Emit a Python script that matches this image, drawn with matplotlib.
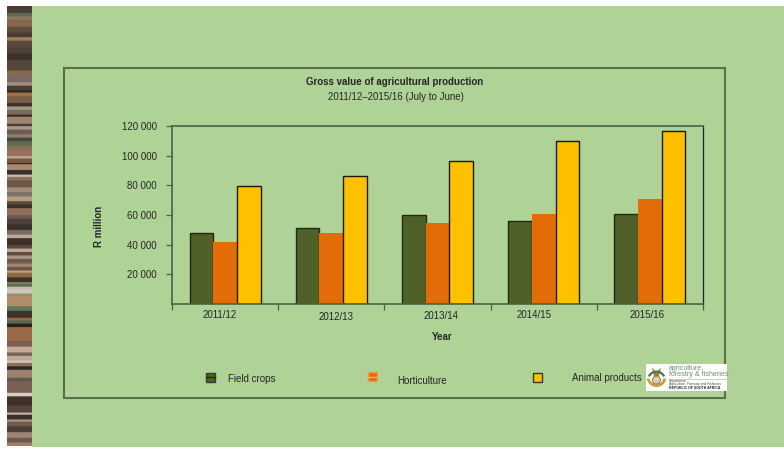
import numpy as np
import matplotlib
matplotlib.use('Agg')
import matplotlib.pyplot as plt
from matplotlib.patches import Rectangle, Ellipse, Wedge, Polygon
from matplotlib.colors import to_rgb

plt.rcParams['font.family'] = ['Liberation Sans', 'DejaVu Sans']

years = ['2011/12', '2012/13', '2013/14', '2014/15', '2015/16']
field_crops = [48000, 51500, 60000, 56000, 60500]
horticulture = [42000, 48000, 54500, 61000, 71000]
animal_products = [79500, 86500, 96500, 110000, 116500]
y_ticks = [20000, 40000, 60000, 80000, 100000, 120000]
y_tick_labels = ['20 000', '40 000', '60 000', '80 000', '100 000', '120 000']

# (height in px, colour) of the bands in the side strip, top to bottom
strip_bands = [
    (6, '#4b3b36'), (3, '#5f6a50'), (3, '#8a7763'), (6, '#86664c'), (5, '#5d4b3e'),
    (4, '#4a3c33'), (3, '#a0805f'), (6, '#5a4a3e'), (5, '#4e4238'), (6, '#3d322b'),
    (9, '#55473a'), (4, '#8a6a4f'), (6, '#7b6a62'), (3, '#a08f82'), (4, '#4a3c36'),
    (2, '#2f2723'), (3, '#a0704a'), (6, '#7b5f48'), (3, '#3a2f2a'), (3, '#a89888'),
    (4, '#7a6a5c'), (2, '#3a302a'), (6, '#a08672'), (2, '#4a3d35'), (3, '#a89a8e'),
    (4, '#6a5c52'), (3, '#8c7f72'), (3, '#4f4238'), (4, '#5a7050'), (3, '#8a6f58'),
    (6, '#96705a'), (2, '#c0a898'), (4, '#7a5a44'), (1, '#3a2018'), (5, '#a88a74'),
    (4, '#3a2f2b'), (2, '#c8bcb0'), (3, '#8a735f'), (6, '#6e5744'), (4, '#a08c7c'),
    (4, '#7d7268'), (4, '#b89c80'), (3, '#574a40'), (3, '#3a302a'), (6, '#8e6e56'),
    (3, '#6a5a54'), (5, '#4c403a'), (5, '#3c322c'), (4, '#7d6a60'),
    (3, '#b8a898'), (6, '#3c3028'), (3, '#5a4838'), (3, '#c0a898'), (3, '#5d4c40'),
    (3, '#a89484'), (4, '#6d5a4a'), (3, '#a08674'), (3, '#6a5648'), (2, '#c0a080'),
    (4, '#8a6a4a'), (4, '#3c3028'), (2, '#7c8060'), (2, '#5a6a4c'), (2, '#c8b8a8'),
    (4, '#d0c4bc'), (2, '#8a9068'), (9, '#b08c6c'), (4, '#5e7858'), (6, '#3e332a'),
    (2, '#9a6a44'), (3, '#5a6a4c'), (3, '#28201e'), (12, '#9a6a48'), (5, '#7a6050'),
    (5, '#c4ac98'), (3, '#7a6454'), (4, '#c0a898'), (2, '#d4c8c0'), (3, '#8a7060'),
    (3, '#2c2622'), (7, '#9c8070'), (3, '#5c5a4c'), (10, '#7c6058'), (3, '#d8ccc4'),
    (8, '#3e302a'), (6, '#55453a'), (2, '#c0b0a4'), (4, '#3a302c'), (2, '#a89484'),
    (4, '#705c50'), (5, '#4a3e36'), (5, '#a08478'), (4, '#6a5a4c'), (3, '#a87c64'),
]

FIELD_COLOR = '#4f6128'
HORT_COLOR = '#e36c09'
ANIMAL_COLOR = '#ffc000'
GREEN_BG = '#afd297'
FRAME_COLOR = '#5c6e4c'
TEXT_COLOR = '#262626'

fig = plt.figure(figsize=(7.84, 4.50), dpi=100, facecolor='white')

# overlay in pixel coordinates for the slide furniture
bg = fig.add_axes([0, 0, 1, 1])
bg.set_xlim(0, 784)
bg.set_ylim(450, 0)
bg.axis('off')
bg.add_patch(Rectangle((32, 6), 752, 441, fc=GREEN_BG, ec='none'))

strip = np.array([to_rgb(c) for h, c in strip_bands for _ in range(h)])[:, None, :]
bg.imshow(strip, extent=(7, 32, 446, 6), aspect='auto', interpolation='bilinear')
bg.set_xlim(0, 784)
bg.set_ylim(450, 0)

bg.add_patch(Rectangle((64.5, 67.5), 661, 330, fc='none', ec=FRAME_COLOR, lw=1.5))

bg.text(395, 82, 'Gross value of agricultural production', ha='center', va='center',
        fontsize=7, fontweight='bold', color=TEXT_COLOR)
bg.text(395.5, 96.5, '2011/12–2015/16 (July to June)', ha='center', va='center',
        fontsize=7, color=TEXT_COLOR)
bg.text(99, 226, 'R million', ha='center', va='center', rotation=90,
        fontsize=7, fontweight='bold', color=TEXT_COLOR)
bg.text(442, 337.5, 'Year', ha='center', va='center',
        fontsize=7, fontweight='bold', color=TEXT_COLOR)

# the year labels sit at uneven offsets under the groups
for label, lx, ly in zip(years, [220, 336, 441, 534, 647], [315.5, 317, 316, 315.5, 315.5]):
    bg.text(lx, ly, label, ha='center', va='center', fontsize=7, color=TEXT_COLOR)

# legend
for lx, ly, c in zip([206.5, 368.5, 533.5], [372.5, 372, 372.5],
                     [FIELD_COLOR, HORT_COLOR, ANIMAL_COLOR]):
    edge = '#ee9a55' if c == HORT_COLOR else '#333d2a'
    bg.add_patch(Rectangle((lx, ly), 9, 9, fc=c, ec=edge, lw=1))
    if c == FIELD_COLOR:
        bg.plot([lx, lx + 9], [ly + 4.5, ly + 4.5], color='#1e2a10', lw=0.9)
    elif c == HORT_COLOR:
        bg.plot([lx, lx + 9], [ly + 4.5, ly + 4.5], color='#f4b183', lw=0.9)
for label, lx, ly in zip(['Field crops', 'Horticulture', 'Animal products'],
                         [228.5, 397.5, 572], [379, 380.5, 378]):
    bg.text(lx, ly, label, ha='left', va='center', fontsize=7, color=TEXT_COLOR)

# department logo
bg.add_patch(Rectangle((646, 364), 81, 27, fc='white', ec='none'))
bg.add_patch(Wedge((656.5, 377), 10, 10, 170, width=3, fc='#c9a04a', ec='none'))
bg.add_patch(Polygon([[652, 367], [656.5, 373], [661, 367], [659, 376], [654, 376]],
                     fc='#b5762a', ec='none'))
bg.add_patch(Ellipse((656.5, 380), 8, 8, fc='#d8cfa8', ec='#6a5a3a', lw=0.5))
bg.add_patch(Wedge((656.5, 380), 9.5, 205, 335, width=2.2, fc='#3d7a4a', ec='none'))
bg.text(669, 368, 'agriculture,', ha='left', va='center', fontsize=5.1, color='#6f8f70')
bg.text(669, 375, 'forestry & fisheries', ha='left', va='center', fontsize=5.1, color='#6f8f70')
bg.plot([669, 726], [378.5, 378.5], color='#a9bcaa', lw=0.5)
bg.text(669, 381, 'Department:', ha='left', va='center', fontsize=2.4, color='#444444')
bg.text(669, 384.5, 'Agriculture, Forestry and Fisheries', ha='left', va='center',
        fontsize=2.4, color='#444444')
bg.text(669, 388, 'REPUBLIC OF SOUTH AFRICA', ha='left', va='center', fontsize=2.5,
        fontweight='bold', color='#222222')

# plot area: x 172-703 px, y 126-304 px
ax = fig.add_axes([172 / 784, 1 - 304 / 450, 531 / 784, 178 / 450])
ax.patch.set_alpha(0)

x = np.arange(len(years))
w = 0.223
ax.bar(x - w, field_crops, w, color=FIELD_COLOR, edgecolor='#1e2a10', linewidth=1)
ax.bar(x, horticulture, w, color=HORT_COLOR, edgecolor='none')
ax.bar(x + w, animal_products, w, color=ANIMAL_COLOR, edgecolor='#1a1a0a', linewidth=1)

ax.set_xlim(-0.5, 4.5)
ax.set_ylim(0, 120000)
ax.set_xticks(np.arange(-0.5, 5))
ax.set_xticklabels([])
ax.set_yticks(y_ticks)
ax.set_yticklabels(y_tick_labels, fontsize=7, color=TEXT_COLOR)
ax.tick_params(axis='both', direction='out', length=4, width=0.9, color='#4f5f45')
ax.tick_params(axis='y', pad=7)

for side in ['left', 'top', 'bottom']:
    ax.spines[side].set_color('#4f5f45')
    ax.spines[side].set_linewidth(1.2)
ax.spines['right'].set_color('#222222')
ax.spines['right'].set_linewidth(0.9)

fig.savefig('out.png', dpi=100)
